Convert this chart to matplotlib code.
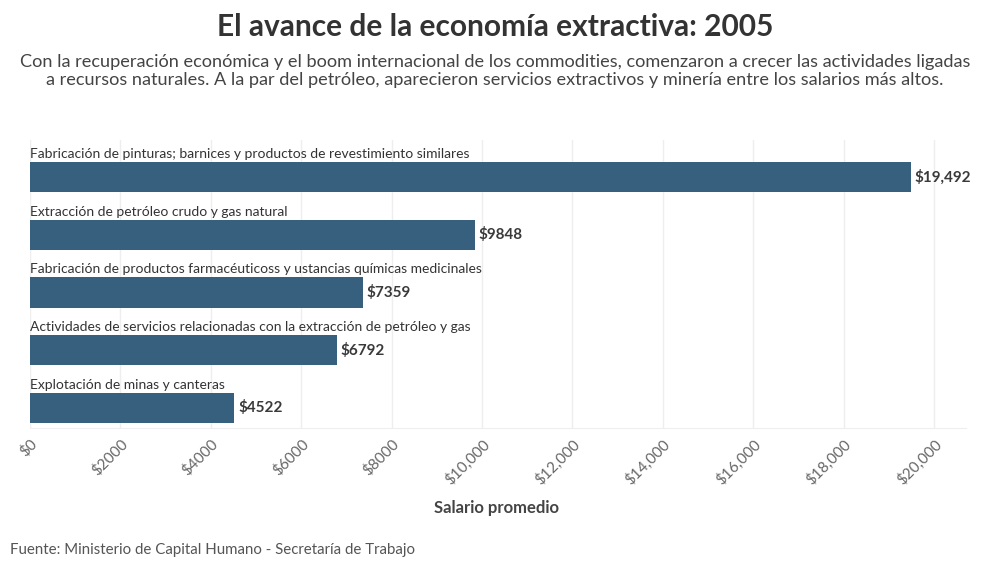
import matplotlib.pyplot as plt
from matplotlib.ticker import FuncFormatter

plt.rcParams['font.family'] = ['Lato', 'DejaVu Sans']

categories = [
    'Fabricación de pinturas; barnices y productos de revestimiento similares',
    'Extracción de petróleo crudo y gas natural',
    'Fabricación de productos farmacéuticoss y ustancias químicas medicinales',
    'Actividades de servicios relacionadas con la extracción de petróleo y gas',
    'Explotación de minas y canteras',
]
salaries = [19492, 9848, 7359, 6792, 4522]
value_labels = ['$19,492', '$9848', '$7359', '$6792', '$4522']
tick_values = [0, 2000, 4000, 6000, 8000, 10000, 12000, 14000, 16000, 18000, 20000]

bar_color = '#37607f'

fig = plt.figure(figsize=(9.9, 5.7), dpi=100)
ax = fig.add_axes([0.0303, 0.249, 0.945, 0.505])

pos = list(range(len(categories)))
ax.barh(pos, salaries, height=0.53, color=bar_color, zorder=3)

for i, (cat, val, lab) in enumerate(zip(categories, salaries, value_labels)):
    ax.text(0, i - 0.30, cat, ha='left', va='bottom', fontsize=10, color='#333333')
    ax.text(val + 80, i, lab, ha='left', va='center', fontsize=11,
            fontweight='bold', color='#3a3a3a')

ax.set_ylim(4.35, -0.64)
ax.set_xlim(0, 20700)
ax.set_yticks([])
ax.set_xticks(tick_values)
ax.xaxis.set_major_formatter(FuncFormatter(
    lambda v, p: '$0' if v == 0 else ('${:,.0f}'.format(v) if v >= 10000 else '${:.0f}'.format(v))))
for lbl in ax.get_xticklabels():
    lbl.set_rotation(45)
    lbl.set_ha('right')
    lbl.set_rotation_mode('anchor')
ax.tick_params(axis='x', length=0, labelsize=11, labelcolor='#666666', pad=6)
ax.grid(axis='x', color='#eeeeee', linewidth=1, zorder=0)
for s in ['top', 'right', 'left']:
    ax.spines[s].set_visible(False)
ax.spines['bottom'].set_color('#eeeeee')

fig.text(0.502, 0.108, 'Salario promedio', ha='center', va='center',
         fontsize=12, fontweight='bold', color='#444444')

fig.text(0.5, 0.952, 'El avance de la economía extractiva: 2005', ha='center', va='center',
         fontsize=21.5, fontweight='bold', color='#333333')
fig.text(0.5, 0.876,
         'Con la recuperación económica y el boom internacional de los commodities, comenzaron a crecer las actividades ligadas\n'
         'a recursos naturales. A la par del petróleo, aparecieron servicios extractivos y minería entre los salarios más altos.',
         ha='center', va='center', fontsize=13.1, color='#444444', linespacing=1.15)

fig.text(0.01, 0.035, 'Fuente: Ministerio de Capital Humano - Secretaría de Trabajo', ha='left', va='center',
         fontsize=10.8, color='#555555')

plt.savefig('out.png', dpi=100)
